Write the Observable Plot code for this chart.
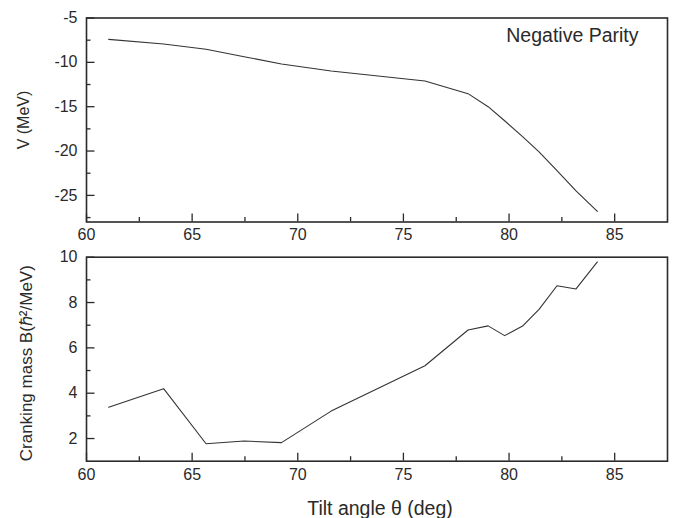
<!DOCTYPE html>
<html><head><meta charset="utf-8">
<script src="https://cdn.jsdelivr.net/npm/d3@7"></script>
<script src="https://cdn.jsdelivr.net/npm/@observablehq/plot@0.6"></script>
<style>
body{margin:0;background:#fff;}
#chart{position:relative;width:685px;height:518px;font-family:"Liberation Sans",Arial,sans-serif;}
#chart svg{position:absolute;left:0;overflow:visible;background:transparent;}
</style></head><body><div id="chart"></div>
<script>
const tilt = [61.05, 63.65, 65.66, 67.46, 69.23, 71.58, 76.02, 78.06, 79.01, 79.79, 80.64, 81.42, 82.27, 83.17, 84.18];
const potential = [-7.41, -7.93, -8.53, -9.36, -10.19, -10.98, -12.11, -13.53, -15.0, -16.58, -18.38, -20.1, -22.2, -24.5, -26.8];
const mass = [3.38, 4.20, 1.77, 1.89, 1.82, 3.21, 5.21, 6.79, 6.97, 6.54, 6.96, 7.70, 8.74, 8.60, 9.79];
const xTicks = [60, 65, 70, 75, 80, 85];
const xMinor = [62.5, 67.5, 72.5, 77.5, 82.5];
const vTicks = [-5, -10, -15, -20, -25];
const vMinor = [-7.5, -12.5, -17.5, -22.5, -27.5];
const bTicks = [2, 4, 6, 8, 10];
const bMinor = [3, 5, 7, 9];
const panelLabel = "Negative Parity";
const xLabel = "Tilt angle θ (deg)";
const vLabel = "V (MeV)";
const bLabel = "Cranking mass B(ℏ²/MeV)";

const topData = tilt.map((t, i) => ({t, v: potential[i]}));
const botData = tilt.map((t, i) => ({t, b: mass[i]}));
const ink = "#2a2a2a";
const font = "Liberation Sans, Arial, sans-serif";
const plain = d => `${d}`;

function axes(yTicks, yMinor) {
  return [
    Plot.axisX(xTicks, {tickSize: -8, text: null, label: null, stroke: ink, strokeWidth: 1.3}),
    Plot.axisX(xMinor, {tickSize: -4.5, text: null, label: null, stroke: ink, strokeWidth: 1.3}),
    Plot.axisX(xTicks, {tickSize: 0, tickPadding: 7, label: null, tickFormat: plain, fill: ink, fontSize: 16}),
    Plot.axisY(yTicks, {tickSize: -8.5, text: null, label: null, stroke: ink, strokeWidth: 1.3}),
    Plot.axisY(yMinor, {tickSize: -4.5, text: null, label: null, stroke: ink, strokeWidth: 1.3}),
    Plot.axisY(yTicks, {tickSize: 0, tickPadding: 9, label: null, tickFormat: plain, fill: ink, fontSize: 16})
  ];
}

const topPlot = Plot.plot({
  width: 685, height: 240,
  marginLeft: 86, marginRight: 18, marginTop: 17.5, marginBottom: 18.5,
  style: {fontFamily: font, fontSize: "16px", color: ink, overflow: "visible"},
  x: {domain: [60, 87.5]},
  y: {domain: [-28, -5]},
  marks: [
    ...axes(vTicks, vMinor),
    Plot.line(topData, {x: "t", y: "v", stroke: "#333", strokeWidth: 1.1}),
    Plot.frame({stroke: ink, strokeWidth: 1.6}),
    Plot.text([panelLabel], {frameAnchor: "top-right", textAnchor: "end", lineAnchor: "middle", dx: -29, dy: 17.5, fontSize: 19.5, fill: ink}),
    Plot.text([vLabel], {frameAnchor: "left", textAnchor: "middle", lineAnchor: "middle", rotate: -90, dx: -63, fontSize: 16, fill: ink})
  ]
});
topPlot.style.top = "0px";

const botPlot = Plot.plot({
  width: 685, height: 278,
  marginLeft: 86, marginRight: 18, marginTop: 16.7, marginBottom: 57.3,
  style: {fontFamily: font, fontSize: "16px", color: ink, overflow: "visible"},
  x: {domain: [60, 87.5]},
  y: {domain: [1, 10]},
  marks: [
    ...axes(bTicks, bMinor),
    Plot.line(botData, {x: "t", y: "b", stroke: "#333", strokeWidth: 1.1}),
    Plot.frame({stroke: ink, strokeWidth: 1.6}),
    Plot.text([bLabel], {frameAnchor: "left", textAnchor: "middle", lineAnchor: "middle", rotate: -90, dx: -60, dy: 4, fontSize: 17, fill: ink}),
    Plot.text([xLabel], {frameAnchor: "bottom", textAnchor: "middle", lineAnchor: "middle", dx: 3, dy: 48, fontSize: 19.5, fill: ink})
  ]
});
botPlot.style.top = "240px";

const c = document.getElementById("chart");
c.appendChild(topPlot);
c.appendChild(botPlot);
</script></body></html>
